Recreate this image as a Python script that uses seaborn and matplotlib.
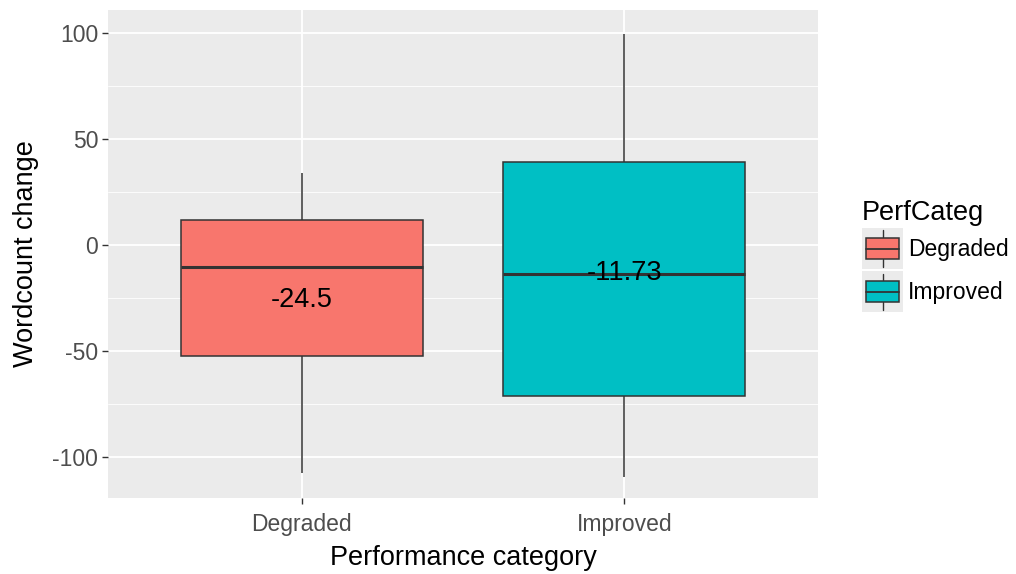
import numpy as np
import pandas as pd
import seaborn as sns
import matplotlib.pyplot as plt
from matplotlib.legend_handler import HandlerBase
from matplotlib.patches import Rectangle
from matplotlib.lines import Line2D

# five-number summaries (min, q1, median, q3, max)
categories = ['Degraded', 'Improved']
degraded = [-107.5, -52.2, -10.2, 11.6, 34.1]
improved = [-109.3, -71.0, -13.7, 39.0, 99.5]
mean_labels = [-24.5, -11.73]
colors = ['#F8766D', '#00BFC4']

df = pd.DataFrame({
    'PerfCateg': ['Degraded'] * len(degraded) + ['Improved'] * len(improved),
    'WordcountChange': degraded + improved,
})

sns.set_theme(style='darkgrid')
plt.rcParams['font.family'] = ['Liberation Sans', 'DejaVu Sans']
plt.rcParams['axes.unicode_minus'] = False

fig = plt.figure(figsize=(10.16, 5.74), dpi=100)
ax = fig.add_axes([0.1063, 0.1324, 0.805 - 0.1063, 0.9826 - 0.1324])

sns.boxplot(data=df, x='PerfCateg', y='WordcountChange', hue='PerfCateg',
            palette=colors, width=0.75, whis=(0, 100), linecolor='#333333',
            linewidth=1.1, saturation=1, legend=False, ax=ax,
            medianprops={'linewidth': 2.2}, capprops={'visible': False})

for i, m in enumerate(mean_labels):
    ax.text(i, m - 1.5, f'{m:g}', ha='center', va='center', fontsize=19.5, color='black')

ax.set_facecolor('#EBEBEB')
ax.set_xlim(-0.6, 1.6)
ax.set_ylim(-119.3, 110.8)
ax.set_yticks([-100, -50, 0, 50, 100])
ax.set_yticks([-75, -25, 25, 75], minor=True)
ax.grid(which='major', color='white', linewidth=1.3)
ax.grid(which='minor', axis='y', color='white', linewidth=0.6)
ax.set_axisbelow(True)
for s in ax.spines.values():
    s.set_visible(False)
ax.tick_params(axis='both', which='major', bottom=True, left=True, length=4, width=1,
               color='#333333', labelsize=16.5, labelcolor='#4D4D4D', pad=3)
ax.tick_params(axis='x', which='major', pad=7)
ax.tick_params(axis='y', which='minor', length=0)
ax.set_xlabel('Performance category', fontsize=19.5, color='black', labelpad=6)
ax.set_ylabel('Wordcount change', fontsize=19.5, color='black', labelpad=10)


class BoxKey(HandlerBase):
    def create_artists(self, legend, orig_handle, xdescent, ydescent,
                       width, height, fontsize, trans):
        fc = orig_handle.get_facecolor()
        x0, y0 = -xdescent, -ydescent
        cx = x0 + width / 2
        bg = Rectangle((x0, y0), width, height, facecolor='#EBEBEB',
                       edgecolor='none', transform=trans)
        box = Rectangle((x0 + width * 0.1, y0 + height * 0.25), width * 0.8, height * 0.5,
                        facecolor=fc, edgecolor='#333333', linewidth=1.1, transform=trans)
        med = Line2D([x0 + width * 0.1, x0 + width * 0.9], [y0 + height / 2] * 2,
                     color='#333333', lw=1.3, transform=trans)
        w1 = Line2D([cx, cx], [y0 + height * 0.06, y0 + height * 0.25],
                    color='#333333', lw=1.0, transform=trans)
        w2 = Line2D([cx, cx], [y0 + height * 0.75, y0 + height * 0.94],
                    color='#333333', lw=1.0, transform=trans)
        return [bg, w1, w2, box, med]


handles = [Rectangle((0, 0), 1, 1, facecolor=c) for c in colors]
leg = fig.legend(handles, categories, title='PerfCateg', loc='upper left',
                 bbox_to_anchor=(862 / 1016, 1 - 200 / 574), frameon=False, fontsize=16.5,
                 title_fontsize=19.5, handler_map={Rectangle: BoxKey()},
                 handlelength=1.8, handleheight=2.4, labelspacing=0.08,
                 handletextpad=0.2, borderpad=0, borderaxespad=0, alignment='left',
                 labelcolor='black')
leg.get_title().set_color('black')

fig.savefig('out.png', dpi=100, facecolor='white')
